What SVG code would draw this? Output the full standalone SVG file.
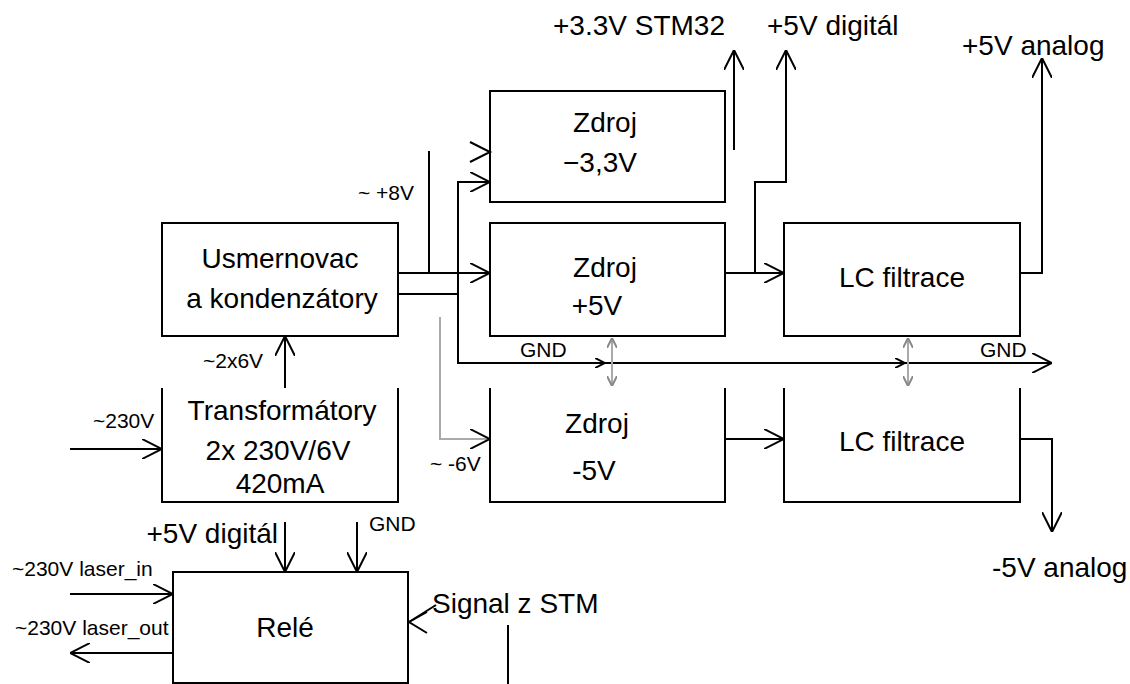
<svg xmlns="http://www.w3.org/2000/svg" width="1130" height="684" viewBox="0 0 1130 684">
<style>
.box{fill:none;stroke:#000;stroke-width:2}
.ln{fill:none;stroke:#000;stroke-width:2}
.gr{fill:none;stroke:#aaa;stroke-width:2}
.t{font-family:"Liberation Sans",Arial,sans-serif;font-size:28px;fill:#000}
.s{font-family:"Liberation Sans",Arial,sans-serif;font-size:21px;fill:#000}
.c{text-anchor:middle}
</style>
<defs>
<marker id="a" viewBox="0 0 20 20" refX="20" refY="10" markerWidth="20" markerHeight="20" markerUnits="userSpaceOnUse" orient="auto">
<path d="M0,0 L20,10 L0,20" fill="none" stroke="#000" stroke-width="2"/>
</marker>
<marker id="sm" viewBox="0 0 10 10" refX="10" refY="5" markerWidth="10" markerHeight="10" markerUnits="userSpaceOnUse" orient="auto">
<path d="M0,0 L10,5 L0,10" fill="none" stroke="#000" stroke-width="2"/>
</marker>
<marker id="sg" viewBox="0 0 10 10" refX="10" refY="5" markerWidth="10" markerHeight="10" markerUnits="userSpaceOnUse" orient="auto-start-reverse">
<path d="M0,0 L10,5 L0,10" fill="none" stroke="#888" stroke-width="2"/>
</marker>
</defs>

<g id="connectors">
<path class="ln" d="M398,273 H490" marker-end="url(#a)"/>
<path class="ln" d="M429,273 V151"/>
<path class="ln" d="M398,294 H458 V182 H490" marker-end="url(#a)"/>
<polyline class="ln" points="470,142 490,152 470,162"/>
<path class="gr" d="M440,317 V439 H490" marker-end="url(#a)"/>
<path class="ln" d="M285,388 V336" marker-end="url(#a)"/>
<path class="ln" d="M70,449 H162" marker-end="url(#a)"/>
<path class="ln" d="M725,273 H784" marker-end="url(#a)"/>
<path class="ln" d="M755,273 V182 H786 V50" marker-end="url(#a)"/>
<path class="ln" d="M734,150 V50" marker-end="url(#a)"/>
<path class="ln" d="M1020,273 H1042 V58" marker-end="url(#a)"/>
<path class="ln" d="M725,439 H784" marker-end="url(#a)"/>
<path class="ln" d="M1020,439 H1052 V532" marker-end="url(#a)"/>
<path class="ln" d="M458,294 V363 H605" marker-end="url(#sm)"/>
<path class="ln" d="M605,363 H905" marker-end="url(#sm)"/>
<path class="ln" d="M905,363 H1052" marker-end="url(#a)"/>
<path class="gr" d="M612,338 V386" marker-start="url(#sg)" marker-end="url(#sg)"/>
<path class="gr" d="M908,338 V386" marker-start="url(#sg)" marker-end="url(#sg)"/>
<path class="ln" d="M70,594 H173" marker-end="url(#a)"/>
<path class="ln" d="M173,653 H70" marker-end="url(#a)"/>
<path class="ln" d="M285,522 V572" marker-end="url(#a)"/>
<path class="ln" d="M357,522 V572" marker-end="url(#a)"/>
<path class="ln" d="M436,605 L409,622" />
<polyline class="ln" points="427,612 409,622 427,633"/>
<path class="ln" d="M508,625 V684"/>
</g>

<g id="usmernovac">
<rect class="box" x="162" y="223" width="236" height="113"/>
<text class="t c" x="280" y="268">Usmernovac</text>
<text class="t c" x="282" y="308">a kondenzátory</text>
</g>
<g id="transformatory">
<path class="box" d="M162,388 V502 H398 V388"/>
<text class="t c" x="282" y="420">Transformátory</text>
<text class="t c" x="278" y="460">2x 230V/6V</text>
<text class="t c" x="280" y="493">420mA</text>
</g>
<g id="zdroj33">
<rect class="box" x="490" y="91" width="235" height="111"/>
<text class="t c" x="605" y="132">Zdroj</text>
<text class="t c" x="600" y="172">−3,3V</text>
</g>
<g id="zdroj5">
<rect class="box" x="490" y="223" width="235" height="113"/>
<text class="t c" x="605" y="277">Zdroj</text>
<text class="t c" x="597" y="315">+5V</text>
</g>
<g id="zdrojm5">
<path class="box" d="M490,388 V502 H725 V388"/>
<text class="t c" x="597" y="433">Zdroj</text>
<text class="t c" x="594" y="480">-5V</text>
</g>
<g id="lc1">
<rect class="box" x="784" y="223" width="236" height="113"/>
<text class="t c" x="902" y="287">LC filtrace</text>
</g>
<g id="lc2">
<path class="box" d="M784,388 V502 H1020 V388"/>
<text class="t c" x="902" y="451">LC filtrace</text>
</g>
<g id="rele">
<rect class="box" x="173" y="572" width="235" height="111"/>
<text class="t c" x="285" y="637">Relé</text>
</g>

<g id="labels">
<text class="t" x="553" y="35">+3.3V STM32</text>
<text class="t" x="767" y="35">+5V digitál</text>
<text class="t" x="962" y="55">+5V analog</text>
<text class="t" x="992" y="577">-5V analog</text>
<text class="s" x="358" y="200">~ +8V</text>
<text class="s" x="430" y="471">~ -6V</text>
<text class="s" x="203" y="368">~2x6V</text>
<text class="s" x="93" y="428">~230V</text>
<text class="s" x="520" y="357">GND</text>
<text class="s" x="980" y="357">GND</text>
<text class="t" x="278" y="543" text-anchor="end">+5V digitál</text>
<text class="s" x="369" y="531">GND</text>
<text class="s" x="12" y="576">~230V laser_in</text>
<text class="s" x="15" y="635">~230V laser_out</text>
<text class="t" x="432" y="613">Signal z STM</text>
</g>
</svg>
